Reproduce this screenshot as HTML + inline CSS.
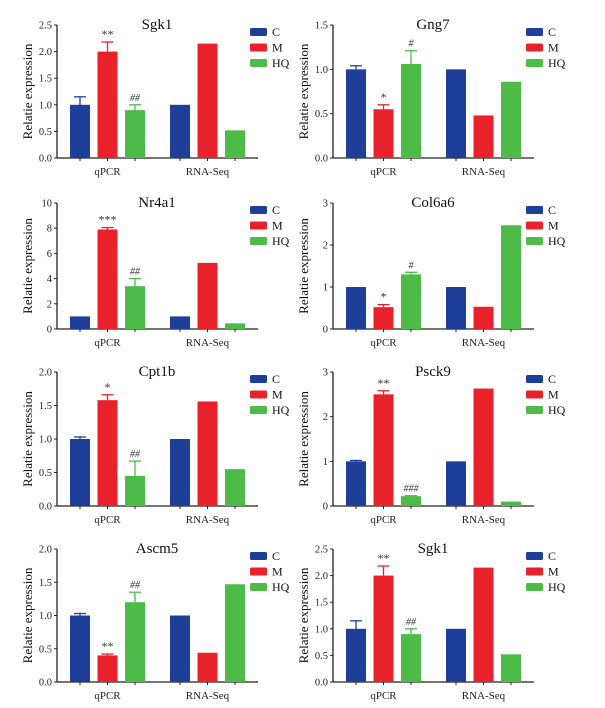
<!DOCTYPE html>
<html><head><meta charset="utf-8"><style>
body{margin:0;background:#fff}
svg{display:block;font-family:"Liberation Serif",serif}
</style></head><body>
<svg id="fig" width="605" height="708" viewBox="0 0 605 708"></svg>
<script>
const groups = ["qPCR","RNA-Seq"];
const seriesNames = ["C","M","HQ"];
const titles = ["Sgk1","Gng7","Nr4a1","Col6a6","Cpt1b","Psck9","Ascm5","Sgk1"];
const qpcrValues = [[1,2,0.9],[1,0.55,1.06],[1,7.9,3.4],[1,0.52,1.3],[1,1.58,0.45],[1,2.5,0.22],[1,0.4,1.2],[1,2,0.9]];
const qpcrErrors = [[0.15,0.18,0.1],[0.04,0.05,0.15],[0,0.15,0.6],[0,0.06,0.05],[0.03,0.08,0.22],[0.02,0.08,0.01],[0.03,0.02,0.15],[0.15,0.18,0.1]];
const rnaValues = [[1,2.15,0.52],[1,0.48,0.86],[1,5.25,0.45],[1,0.53,2.47],[1,1.56,0.55],[1,2.63,0.1],[1,0.44,1.47],[1,2.15,0.52]];
const yMax = [2.5,1.5,10,3,2,3,2,2.5];
const yStep = [0.5,0.5,2,1,0.5,1,0.5,0.5];
const sigM = ["**","*","***","*","*","**","**","**"];
const sigHQ = ["##","#","##","#","##","###","##","##"];
const yLabels = ["Relatie expression","Relatie expression","Relatie expression","Relatie expression","Relatie expression","Relatie expression","Relatie expression","Relatie expression"];

const colors = ["#1d3f9a","#e8212b","#4dbb47"];
const svg = document.getElementById('fig');
const NS = "http://www.w3.org/2000/svg";
function mk(tag, attrs, parent){const e=document.createElementNS(NS,tag);for(const k in attrs)e.setAttribute(k,attrs[k]);parent.appendChild(e);return e;}
const rowTop=[25,203,372,549], rowBase=[158,329,506,682];
for(let p=0;p<8;p++){
  const r=Math.floor(p/2), c=p%2, off=c?276:0;
  const g=mk('g',{},svg);
  
  
  const ax=57+off, ax2=258+off, top=rowTop[r], base=rowBase[r];
  const y=v=>base-(v/yMax[p])*(base-top);
  const bx=(gi,si)=>70+off+gi*100+si*27.5;
  const ya=mk('line',{x1:ax,y1:top,x2:ax,y2:base,stroke:'#222','stroke-width':1.3},g);
  
  const xa=mk('line',{x1:ax,y1:base,x2:ax2,y2:base,stroke:'#222','stroke-width':1.3},g);
  
  const dec=yStep[p]<1;
  for(let v=0;v<=yMax[p]+1e-9;v+=yStep[p]){
    mk('line',{x1:ax-3,y1:y(v),x2:ax,y2:y(v),stroke:'#222'},g);
    const t=mk('text',{x:ax-5,y:y(v)+3.5,'text-anchor':'end','font-size':10.5,fill:'#222'},g);
    t.textContent=dec?v.toFixed(1):String(v);
    
  }
  for(let gi=0;gi<2;gi++){
    for(let si=0;si<3;si++) mk('line',{x1:bx(gi,si)+10,y1:base,x2:bx(gi,si)+10,y2:base+3,stroke:'#222'},g);
    const t=mk('text',{x:bx(gi,1)+10,y:base+17,'text-anchor':'middle','font-size':11,fill:'#222'},g);
    t.textContent=groups[gi];
    
  }
  const vals=[qpcrValues[p],rnaValues[p]];
  for(let gi=0;gi<2;gi++)for(let si=0;si<3;si++){
    const v=vals[gi][si];
    const b=mk('rect',{x:bx(gi,si),y:y(v),width:20,height:base-y(v),fill:colors[si]},g);
    
    
    if(gi===0){
      const e=qpcrErrors[p][si];
      const cx=bx(gi,si)+10;
      if(e>0){
        mk('line',{x1:cx,y1:y(v),x2:cx,y2:y(v+e),stroke:colors[si],'stroke-width':1.3},g);
        mk('line',{x1:cx-6,y1:y(v+e),x2:cx+6,y2:y(v+e),stroke:colors[si],'stroke-width':1.3},g);
      }
      if(si>0){
        const t=mk('text',{x:cx,y:y(v+e)-4,'text-anchor':'middle','font-size':si===1?12:10,fill:'#333','font-style':si===2?'italic':'normal'},g);
        t.textContent=si===1?sigM[p]:sigHQ[p];
        
      }
    }
  }
  const tt=mk('text',{x:157+off,y:top+4,'text-anchor':'middle','font-size':15,fill:'#111'},g);
  tt.textContent=titles[p];
  
  const yl=mk('text',{x:0,y:0,transform:`translate(${32+off},${(top+base)/2}) rotate(-90)`,'text-anchor':'middle','font-size':13,fill:'#111'},g);
  yl.textContent=yLabels[p];
  
  for(let si=0;si<3;si++){
    const ly=top+7+si*15.5;
    const sw=mk('rect',{x:250+off,y:ly-4,width:17,height:8,rx:1.5,fill:colors[si]},g);
    
    const lt=mk('text',{x:272+off,y:ly+4,'font-size':12,fill:'#111'},g);
    lt.textContent=seriesNames[si];
    
  }
}
</script>
</body></html>
